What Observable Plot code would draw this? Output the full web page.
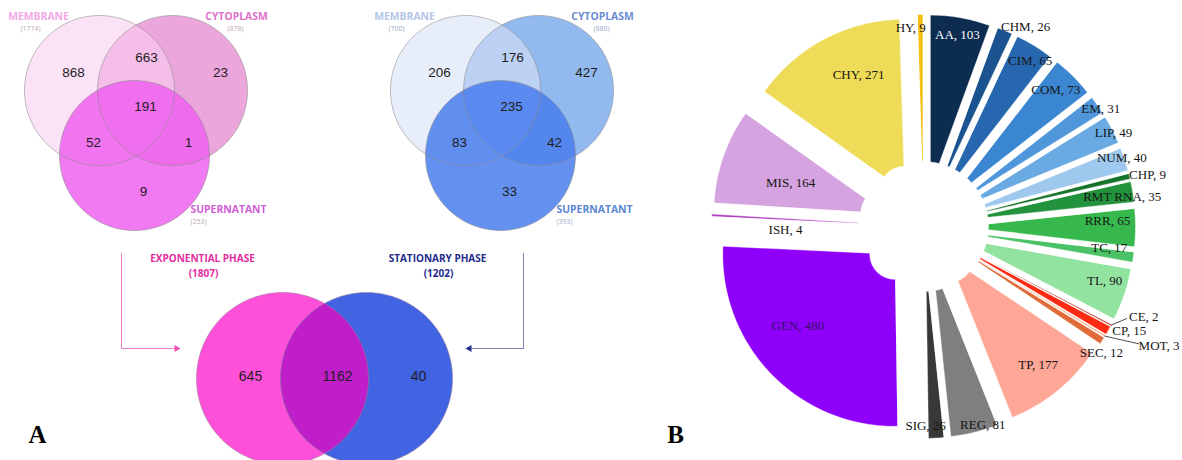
<!DOCTYPE html>
<html><head><meta charset="utf-8">
<script src="https://cdn.jsdelivr.net/npm/d3@7"></script>
<script src="https://cdn.jsdelivr.net/npm/@observablehq/plot@0.6"></script>
<style>html,body{margin:0;padding:0;background:#fff;} #chart svg{display:block}</style>
</head><body><div id="chart"></div>
<script>
// ---------------- DATA ----------------
const vennSets = ["MEMBRANE", "CYTOPLASM", "SUPERNATANT"];
// regions: M only, M∩C, C only, M∩C∩S, M∩S, C∩S, S only
const expRegions  = [868, 663, 23, 191, 52, 1, 9];
const statRegions = [206, 176, 427, 235, 83, 42, 33];
const expTotals  = [1774, 878, 253];
const statTotals = [700, 880, 393];
const phaseNames  = ["EXPONENTIAL PHASE", "STATIONARY PHASE"];
const phaseTotals = [1807, 1202];
const phaseRegions = [645, 1162, 40]; // exp only, both, stat only

const pieCategories = ["AA","CHM","CIM","COM","EM","LIP","NUM","CHP","RMT RNA","RRR","TC","TL","CE","CP","MOT","SEC","TP","REG","SIG","GEN","ISH","MIS","CHY","HY"];
const pieValues     = [103,26,65,73,31,49,40,9,35,65,17,90,2,15,3,12,177,81,26,480,4,164,271,9];

// ---------------- LAYOUT / STYLE ----------------
const W = 1182, H = 460;
const vennCircles = [[99,90],[172,90],[134,155]], vennR = 75, vennOffsets = [0, 366];
const regionLabelPos = [[73,72],[146,57],[220,72],[145,106],[93,142],[188,142],[143,191]];
const setNamePos  = [[38,16.5,"middle"],[236,16.5,"middle"],[190,209,"start"]];
const setCountPos = [[30,28.5,"middle"],[235,28,"middle"],[190,221,"start"]];
const vennStyles = [
  {fill:["#facff2","#eba6dc","#ef62ef"], label:["#f3a8e6","#dc72c8","#cf5fd6"], count:"#b9a9b9"},
  {fill:["#d9e1f7","#92baee","#497eed"], label:["#b4c6ea","#6b8cd2","#5a87d4"], count:"#9aaac8"}
];
const bottomCircles = [[282,378],[366,378]], bottomR = 86;
const bottomFills = ["#ff50da","#4064e2","#c01ec8"];
const bottomLabelPos = [[250,376],[337,376],[418,376]];
const phaseLabelPos = [[202,258],[437,258]];
const phaseColors = ["#e22c9e","#1f2a8c"];
const arrowPaths = [[[121,253],[121,348],[176,348]],[[523,253],[523,348],[469,348]]];
const arrowColors = ["#ef7cc6","#7a82b4"];
const arrowHeadColors = ["#ee4fae","#26308e"];
const arrowHeadRotate = [90, -90];

const pieCenter = [923,226], pieExplode = 40, pieOuter = 172, pieInner = 25;
const pieColors = {"AA":"#0c2c50","CHM":"#1b5390","CIM":"#2767b0","COM":"#3a86d0","EM":"#4f97da","LIP":"#6aaae2","NUM":"#9ec8ee","CHP":"#17752b","RMT RNA":"#23923c","RRR":"#36b84d","TC":"#4cc266","TL":"#93e3a0","CE":"#b83020","CP":"#ff2a12","MOT":"#f7b694","SEC":"#e06a38","TP":"#ffa796","REG":"#7f7f7f","SIG":"#383838","GEN":"#8e00fa","ISH":"#b244c4","MIS":"#d4a3e0","CHY":"#eedc58","HY":"#f5c010"};
// label placement: [distance from centre, angular nudge from slice bisector in degrees]
const pieLabelPlace = {"AA":[195,0],"CHM":[224,4.5],"CIM":[197,1.3],"COM":[190,-0.8],"EM":[213,1.3],"LIP":[212,0.8],"NUM":[210,-0.7],"CHP":[230,0.6],"RMT RNA":[201,0.8],"RRR":[184,-2.2],"TC":[187,-1.9],"TL":[189,-2.2],"CE":[238,-5.5],"CP":[231,-2.4],"MOT":[264,-4.3],"SEC":[218,2.7],"TP":[180,-0.6],"REG":[207,-2.8],"SIG":[199,2.8],"GEN":[160,5.8],"ISH":[138,-4.3],"MIS":[140,-1.1],"CHY":[165,5],"HY":[199,-2.8]};
const pieLabelColors = {"AA":"#ffffff","GEN":"#3a1266"};
const pieLeaders = {"CE":[223,114.4],"MOT":[245,118.6]};

// ---------------- HELPERS ----------------
const dir = t => [Math.sin(t), -Math.cos(t)];
const rad = d => d*Math.PI/180;
function circle(cx, cy, r, n = 180) {
  return d3.range(n).map(i => { const t = 2*Math.PI*i/n; return {x: cx + r*Math.cos(t), y: cy + r*Math.sin(t)}; });
}
const poly = (pts, o) => Plot.line(pts, {x:"x", y:"y", curve:"linear-closed", stroke:"none", ...o});
const sansNum = {fontFamily:"Liberation Sans, Arial, sans-serif", fontSize:13.5, fill:"#1e1e1e"};

const marks = [];

// ---------------- TOP VENNS ----------------
[[expRegions, expTotals], [statRegions, statTotals]].forEach(([regions, totals], k) => {
  const ox = vennOffsets[k], st = vennStyles[k];
  const [M, C, S] = vennCircles.map(([x,y]) => circle(x + ox, y, vennR));
  marks.push(poly(C, {fill: st.fill[1]}));
  marks.push(poly(M, {fill: st.fill[0], fillOpacity: 0.6}));
  marks.push(poly(S, {fill: st.fill[2], fillOpacity: 0.85}));
  [M, C, S].forEach(c => marks.push(poly(c, {stroke:"#8a8a8a", strokeWidth:0.8, strokeOpacity:0.7, fill:"none"})));
  marks.push(Plot.text(regions.map((n,i) => ({n, x: regionLabelPos[i][0] + ox, y: regionLabelPos[i][1]})),
    {x:"x", y:"y", text: d => String(d.n), ...sansNum}));
  vennSets.forEach((name, i) => {
    marks.push(Plot.text([name], {x: setNamePos[i][0] + ox, y: setNamePos[i][1], text: d => d, textAnchor: setNamePos[i][2],
      fontFamily:"Open Sans, sans-serif", fontWeight:700, fontSize:10.4, fill: st.label[i]}));
    marks.push(Plot.text([totals[i]], {x: setCountPos[i][0] + ox, y: setCountPos[i][1], text: d => `(${d})`, textAnchor: setCountPos[i][2],
      fontFamily:"Open Sans, sans-serif", fontSize:7, fill: st.count}));
  });
});

// ---------------- ARROWS + PHASE LABELS ----------------
arrowPaths.forEach((p, i) => {
  marks.push(Plot.line(p.map(([x,y]) => ({x,y})), {x:"x", y:"y", stroke: arrowColors[i], strokeWidth:1}));
  const [hx, hy] = p[p.length - 1];
  marks.push(Plot.dot([0], {x: hx, y: hy, symbol:"triangle", r: 2.6, fill: arrowHeadColors[i], stroke:"none", rotate: arrowHeadRotate[i]}));
});
phaseNames.forEach((name, i) => {
  marks.push(Plot.text([name], {x: phaseLabelPos[i][0], y: phaseLabelPos[i][1], text: d => d,
    fontFamily:"Open Sans, sans-serif", fontWeight:700, fontSize:10, fill: phaseColors[i]}));
  marks.push(Plot.text([phaseTotals[i]], {x: phaseLabelPos[i][0] + 1, y: phaseLabelPos[i][1] + 15, text: d => `(${d})`,
    fontFamily:"Open Sans, sans-serif", fontWeight:700, fontSize:10, fill: phaseColors[i]}));
});

// ---------------- BOTTOM VENN ----------------
{
  const [P, B] = bottomCircles.map(([x,y]) => circle(x, y, bottomR, 240));
  const inside = (pt, [cx,cy]) => Math.hypot(pt.x-cx, pt.y-cy) <= bottomR;
  const lens = P.filter(p => inside(p, bottomCircles[1])).concat(B.filter(p => inside(p, bottomCircles[0])));
  const mx = (bottomCircles[0][0] + bottomCircles[1][0]) / 2, my = bottomCircles[0][1];
  lens.sort((a,b) => Math.atan2(a.y-my, a.x-mx) - Math.atan2(b.y-my, b.x-mx));
  marks.push(poly(P, {fill: bottomFills[0]}));
  marks.push(poly(B, {fill: bottomFills[1]}));
  marks.push(poly(lens, {fill: bottomFills[2]}));
  [P, B].forEach(c => marks.push(poly(c, {stroke:"#9a7a9a", strokeWidth:0.8, strokeOpacity:0.7, fill:"none"})));
  marks.push(Plot.text(phaseRegions.map((n,i) => ({n, x: bottomLabelPos[i][0], y: bottomLabelPos[i][1]})),
    {x:"x", y:"y", text: d => String(d.n), ...sansNum, fontSize:14}));
}

// ---------------- PIE (exploded) ----------------
const arcs = d3.pie().sort(null).value(d => d)(pieValues);
const slicePts = [];
arcs.forEach((a, i) => {
  const cat = pieCategories[i];
  const mid = (a.startAngle + a.endAngle) / 2;
  const [ex, ey] = dir(mid);
  const px = pieCenter[0] + pieExplode*ex, py = pieCenter[1] + pieExplode*ey;
  const n = Math.max(2, Math.ceil((a.endAngle - a.startAngle) / 0.015));
  const outer = d3.range(n+1).map(j => a.startAngle + (a.endAngle - a.startAngle)*j/n);
  outer.forEach(t => { const [dx,dy] = dir(t); slicePts.push({cat, x: px + pieOuter*dx, y: py + pieOuter*dy}); });
  outer.slice().reverse().forEach(t => { const [dx,dy] = dir(t); slicePts.push({cat, x: px + pieInner*dx, y: py + pieInner*dy}); });
});
marks.push(Plot.line(slicePts, {x:"x", y:"y", z:"cat", fill: d => pieColors[d.cat], stroke:"#ffffff", strokeWidth:0.4, curve:"linear-closed"}));

// leader lines
Object.entries(pieLeaders).forEach(([cat, [dist, ang]]) => {
  const a = arcs[pieCategories.indexOf(cat)];
  const mid = (a.startAngle + a.endAngle) / 2;
  const [sx, sy] = dir(mid), [tx, ty] = dir(rad(ang));
  const r0 = pieExplode + pieOuter;
  marks.push(Plot.line([{x: pieCenter[0] + r0*sx, y: pieCenter[1] + r0*sy}, {x: pieCenter[0] + dist*tx, y: pieCenter[1] + dist*ty}],
    {x:"x", y:"y", stroke:"#222", strokeWidth:0.8}));
});

// labels
const pieLabels = arcs.map((a, i) => {
  const cat = pieCategories[i];
  const [dist, nudge] = pieLabelPlace[cat];
  const t = (a.startAngle + a.endAngle) / 2 + rad(nudge);
  const [dx, dy] = dir(t);
  return {text: `${cat}, ${pieValues[i]}`, x: pieCenter[0] + dist*dx, y: pieCenter[1] + dist*dy, fill: pieLabelColors[cat] || "#151515"};
});
marks.push(Plot.text(pieLabels, {x:"x", y:"y", text:"text", fill:"fill", fontFamily:"Liberation Serif, Times New Roman, serif", fontSize:13}));

// panel letters
marks.push(Plot.text(["A","B"], {x: (d,i) => [37, 675][i], y: 434, text: d => d, fontFamily:"Liberation Serif, Times New Roman, serif", fontWeight:700, fontSize:25, fill:"#000"}));

const chart = Plot.plot({
  width: W, height: H, margin: 0,
  x: {domain:[0,W], range:[0,W], axis:null},
  y: {domain:[0,H], range:[0,H], axis:null},
  color: {type:"identity"},
  style: {background:"#fff", overflow:"visible"},
  marks
});
document.getElementById("chart").appendChild(chart);
</script>
</body></html>
